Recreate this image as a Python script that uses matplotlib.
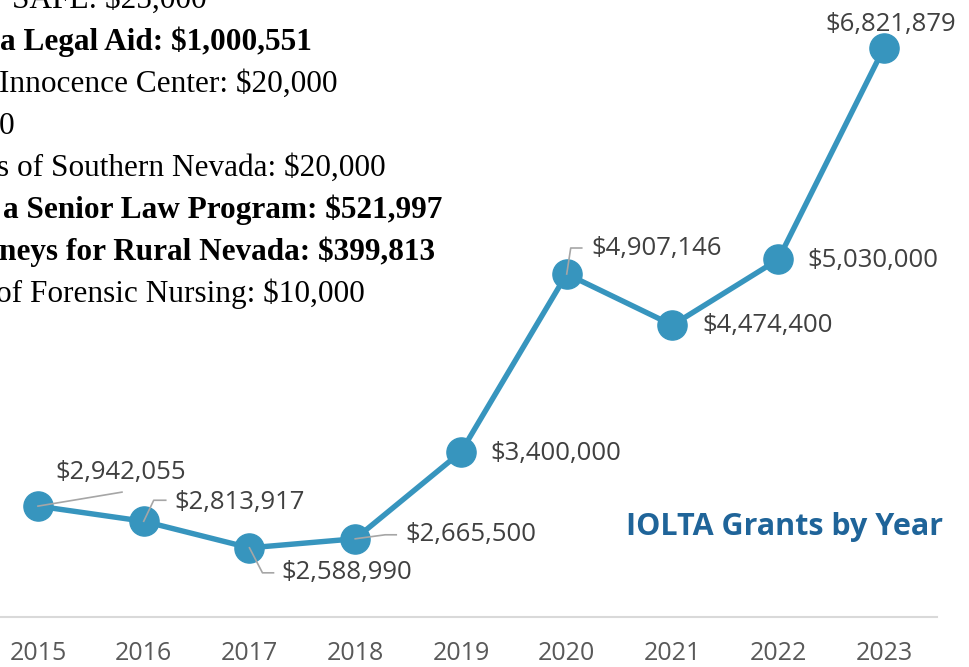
import matplotlib.pyplot as plt
import matplotlib.transforms as mtransforms
import numpy as np

# datos del grafico
years = ['2015', '2016', '2017', '2018', '2019', '2020', '2021', '2022', '2023']
grants = [2942055, 2813917, 2588990, 2665500, 3400000, 4907146, 4474400, 5030000, 6821879]
labels = ['$2,942,055', '$2,813,917', '$2,588,990', '$2,665,500', '$3,400,000',
          '$4,907,146', '$4,474,400', '$5,030,000', '$6,821,879']

# texto recortado de arriba a la izquierda (texto, negrita)
overlay = [
    ('SAFE: $25,000', False),
    ('a Legal Aid: $1,000,551', True),
    ('Innocence Center: $20,000', False),
    ('0', False),
    ('s of Southern Nevada: $20,000', False),
    ('a Senior Law Program: $521,997', True),
    ('neys for Rural Nevada: $399,813', True),
    ('of Forensic Nursing: $10,000', False),
]
overlay_right = [207, 312, 338, 14, 386, 442, 435, 365]

# posicion de etiquetas en pixeles respecto al punto (dx, dy hacia abajo)
label_off = [(17, -34), (31, -19), (32, 25), (50, -4), (29, 1),
             (25, -26), (30, 0), (29, 1), (7, -23)]
leaders = [
    [(0, 0), (84, -14)],
    [(0, 0), (10, -21), (22, -21)],
    [(0, 0), (13, 25), (24, 25)],
    [(0, 0), (30, -4), (41, -4)],
    None,
    [(0, 0), (4, -26), (15, -26)],
    None, None, None,
]

W, H = 970, 667
fig = plt.figure(figsize=(W / 100, H / 100), dpi=100)
ax = fig.add_axes([-14.9 / W, (H - 617.4) / H, 951.75 / W, 590.6 / H])

x = np.arange(len(years))
ax.plot(x, grants, color='#3795BE', lw=3.9, marker='o', ms=21, zorder=3)
ax.set_xlim(-0.5, len(years) - 0.5)
ax.set_ylim(2000000, 7000000)

for s in ['top', 'left', 'right']:
    ax.spines[s].set_visible(False)
ax.spines['bottom'].set_color('#D9D9D9')
ax.spines['bottom'].set_linewidth(1.5)
ax.set_yticks([])
ax.set_xticks(x)
ax.set_xticklabels(years, family='Open Sans', fontsize=18, color='#595959')
ax.tick_params(axis='x', length=0, pad=17)

# etiquetas de datos
for i in range(len(years)):
    dx, dy = label_off[i]
    ha = 'center' if i == len(years) - 1 else 'left'
    ax.annotate(labels[i], xy=(x[i], grants[i]), xytext=(dx, -dy),
                textcoords='offset pixels', ha=ha, va='center',
                family='Open Sans', fontsize=18.5, color='#404040', zorder=4)

# lineas guia
fig.canvas.draw()
for i in range(len(years)):
    if leaders[i] is None:
        continue
    px, py = ax.transData.transform((x[i], grants[i]))
    tr = mtransforms.Affine2D().translate(px, py)
    xs = [p[0] for p in leaders[i]]
    ys = [-p[1] for p in leaders[i]]
    fig.add_artist(plt.Line2D(xs, ys, transform=tr, color='#A6A6A6', lw=1.2, zorder=2))

# texto superpuesto
for k, (t, b) in enumerate(overlay):
    fig.text(overlay_right[k] / W, 1 - (8 + 42 * k) / H, t, ha='right', va='baseline',
             family='Liberation Serif', fontsize=22.5,
             weight='bold' if b else 'normal', color='black')

fig.text(943 / W, 1 - 535 / H, 'IOLTA Grants by Year', ha='right', va='baseline',
         family='Open Sans', weight='bold', fontsize=22, color='#1F6499')

fig.savefig('out.png', dpi=100)
